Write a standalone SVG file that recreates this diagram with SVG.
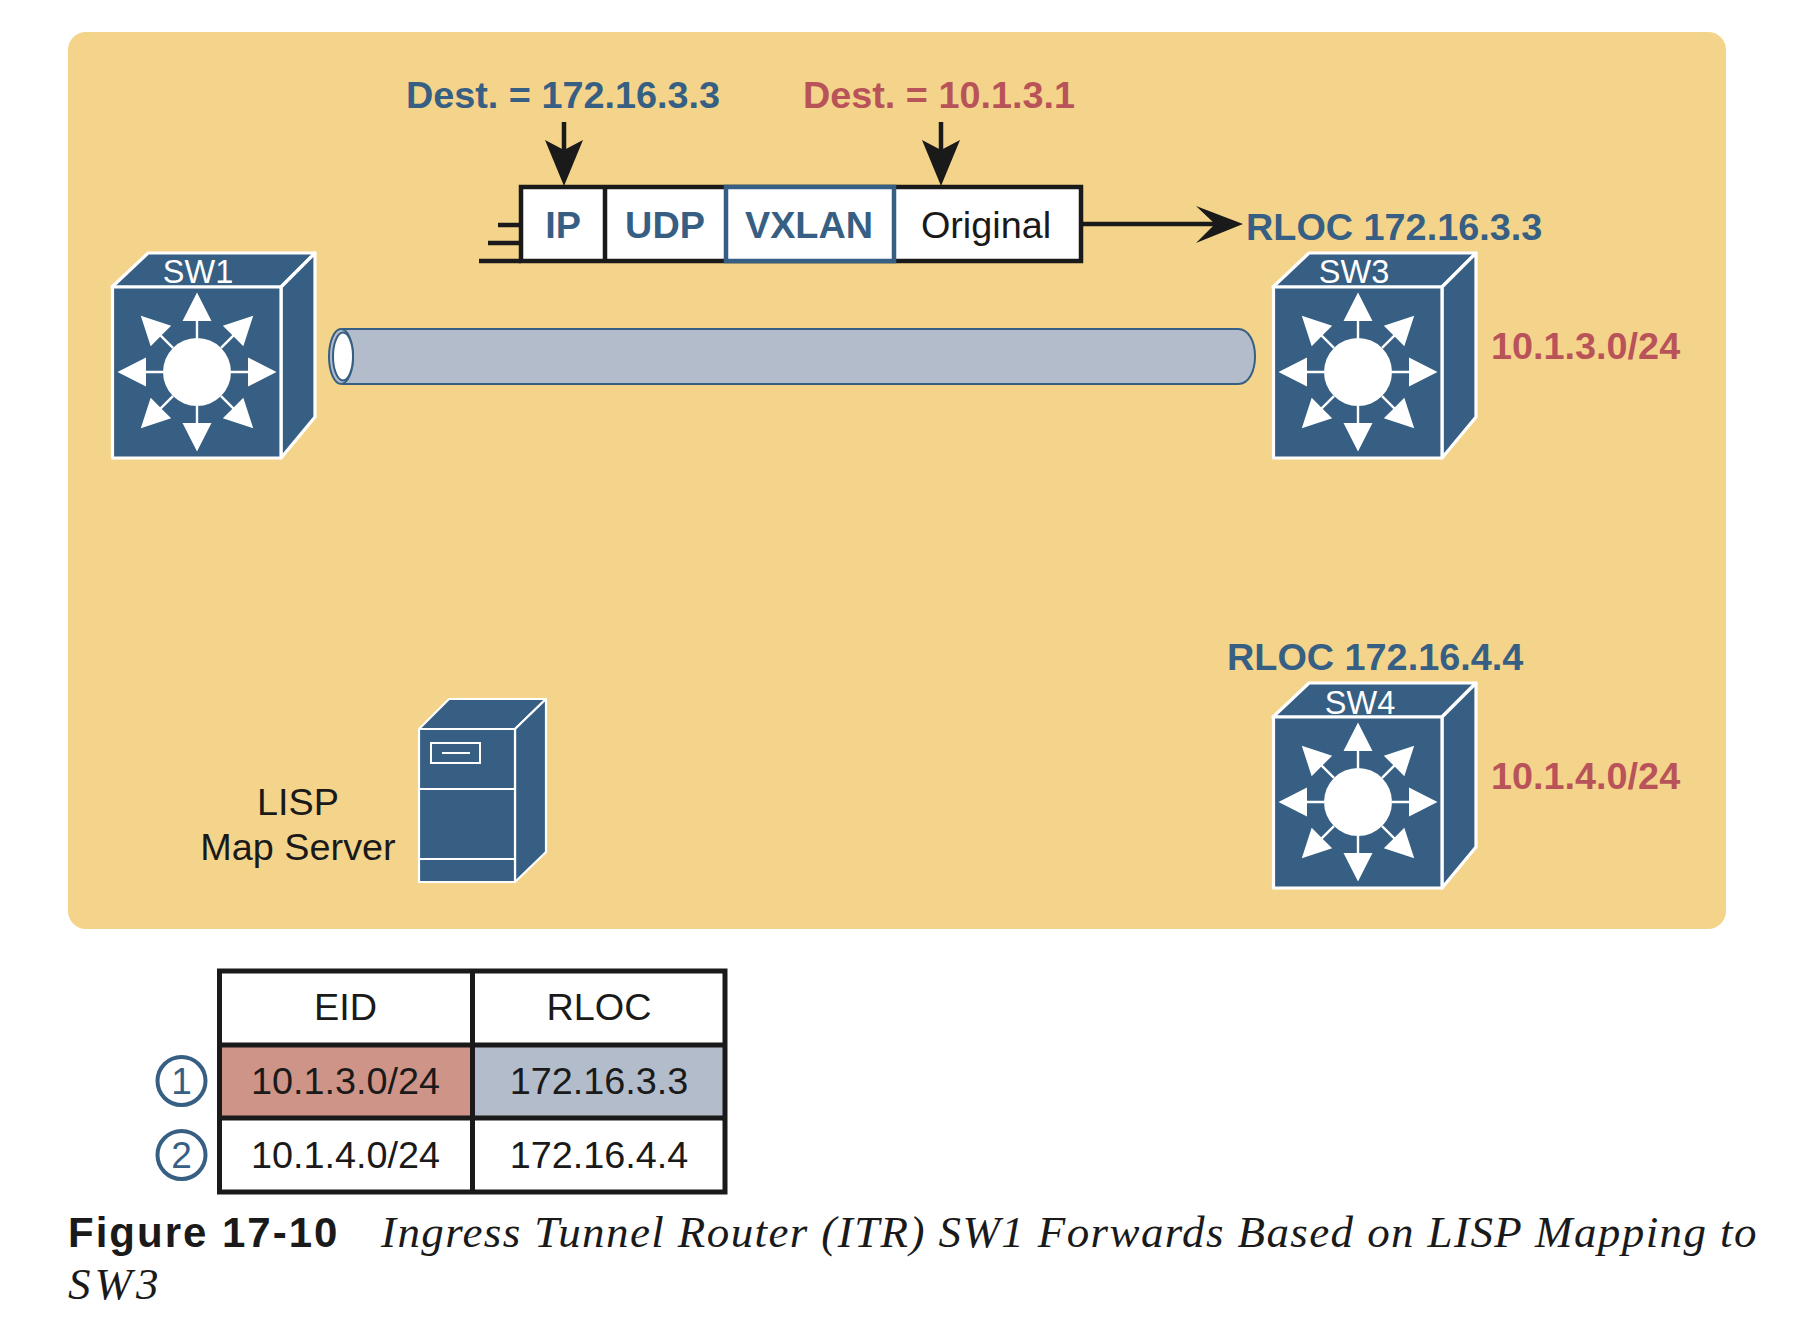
<svg xmlns="http://www.w3.org/2000/svg" xmlns:xlink="http://www.w3.org/1999/xlink" width="1806" height="1334" viewBox="0 0 1806 1334">
<style>
text{font-family:"Liberation Sans",Arial,sans-serif}
.b{font-weight:bold;font-size:37.800px}
.blue{fill:#365f83}
.red{fill:#b9535a}
.k{fill:#1a1a1a;font-size:37.800px}
.m{text-anchor:middle}
.face{fill:#365f83;stroke:#fff;stroke-width:3.200;stroke-linejoin:round}
.thin{fill:#365f83;stroke:#fff;stroke-width:2.200;stroke-linejoin:round}
.sw{fill:#fff;font-size:32.500px;text-anchor:middle}
.pk{stroke:#1a1a1a;stroke-width:4.500;fill:none}
.cap{font-family:"Liberation Serif",serif;font-style:italic;font-size:45px;letter-spacing:1.400px;fill:#1a1a1a}
.cell{stroke:#1a1a1a;stroke-width:5}
</style>
<defs>
<g id="ray"><path d="M-1.200 -34V-51H-14.500L0 -79.500L14.500 -51H1.200V-34Z" fill="#fff"/></g>
<g id="switch">
<path class="face" d="M-85 -85L-49 -119H118L84 -85Z"/>
<path class="face" d="M84 -85L118 -119V45L84 86Z"/>
<rect class="face" x="-84.500" y="-85" width="168.500" height="171"/>
<circle r="34" fill="#fff"/>
<use href="#ray"/>
<use href="#ray" transform="rotate(45)"/>
<use href="#ray" transform="rotate(90)"/>
<use href="#ray" transform="rotate(135)"/>
<use href="#ray" transform="rotate(180)"/>
<use href="#ray" transform="rotate(225)"/>
<use href="#ray" transform="rotate(270)"/>
<use href="#ray" transform="rotate(315)"/>
</g>
</defs>
<rect width="1806" height="1334" fill="#fff"/>
<rect id="panel" x="68" y="32" width="1658" height="897" rx="18" fill="#f4d48a"/>

<g id="tunnel">
<path d="M343 329H1238C1249 329 1255 342 1255 356.500C1255 371 1249 384 1238 384H343Z" fill="#b3bccb" stroke="#365f83" stroke-width="2"/>
<ellipse cx="341" cy="356.500" rx="12" ry="27.500" fill="#b3bccb" stroke="#365f83" stroke-width="2"/>
<ellipse cx="343" cy="356.500" rx="10" ry="24" fill="#fff" stroke="#365f83" stroke-width="2"/>
</g>

<g id="sw1"><use href="#switch" transform="translate(197 372)"/><text class="sw" x="198" y="283">SW1</text></g>
<g id="sw3"><use href="#switch" transform="translate(1358 372)"/><text class="sw" x="1354" y="283">SW3</text></g>
<g id="sw4"><use href="#switch" transform="translate(1358 802)"/><text class="sw" x="1360" y="714">SW4</text></g>

<g id="map-server">
<path class="thin" d="M419 729L449 699H546L515 729Z"/>
<path class="thin" d="M515 729L546 699V852L515 882Z"/>
<rect class="thin" x="419" y="729" width="96" height="153"/>
<path d="M419 789H515M419 859H515M442 753H470" stroke="#fff" stroke-width="2" fill="none"/>
<rect x="431" y="743" width="49" height="20" fill="none" stroke="#fff" stroke-width="2"/>
<text class="k m" x="298" y="815">LISP</text>
<text class="k m" x="298" y="860">Map Server</text>
</g>

<g id="packet">
<rect x="521" y="187" width="560" height="74" fill="#fff"/>
<rect class="pk" x="521" y="187" width="560" height="74"/>
<path class="pk" d="M605 187V261"/>
<rect x="726" y="187" width="168" height="74" fill="#fff" stroke="#365f83" stroke-width="4.500"/>
<text class="b blue m" x="563" y="238">IP</text>
<text class="b blue m" x="665" y="238">UDP</text>
<text class="b blue m" x="809" y="238">VXLAN</text>
<text class="k m" x="986" y="238">Original</text>
</g>

<g id="connectors">
<path class="pk" d="M498 225H521M488 243H521M479 261H521"/>
<path class="pk" d="M564 122V150M941 122V150M1081 224H1215"/>
<path fill="#1a1a1a" d="M545 140L564 150L583 140L564 186Z"/>
<path fill="#1a1a1a" d="M922 140L941 150L960 140L941 186Z"/>
<path fill="#1a1a1a" d="M1196 206L1215 224L1196 243L1243 224Z"/>
</g>

<g id="labels">
<text class="b blue m" x="563" y="108">Dest. = 172.16.3.3</text>
<text class="b red m" x="939" y="108">Dest. = 10.1.3.1</text>
<text class="b blue" x="1246" y="240">RLOC 172.16.3.3</text>
<text class="b blue" x="1227" y="670">RLOC 172.16.4.4</text>
<text class="b red" x="1491" y="359">10.1.3.0/24</text>
<text class="b red" x="1491" y="789">10.1.4.0/24</text>
</g>

<g id="table">
<rect x="219" y="971" width="253" height="74" fill="#fff"/>
<rect x="472" y="971" width="253" height="74" fill="#fff"/>
<rect x="219" y="1045" width="253" height="73" fill="#cf9488"/>
<rect x="472" y="1045" width="253" height="73" fill="#b3bccb"/>
<rect x="219" y="1118" width="506" height="74" fill="#fff"/>
<path class="cell" fill="none" d="M219.500 971H725V1192H219.500ZM472.500 971V1192M219 1045H725M219 1118H725"/>
<text class="k m" x="345.500" y="1020">EID</text>
<text class="k m" x="599" y="1020">RLOC</text>
<text class="k m" x="345.500" y="1094">10.1.3.0/24</text>
<text class="k m" x="599" y="1094">172.16.3.3</text>
<text class="k m" x="345.500" y="1168">10.1.4.0/24</text>
<text class="k m" x="599" y="1168">172.16.4.4</text>
</g>

<g id="step1"><circle cx="181.500" cy="1081" r="24" fill="none" stroke="#365f83" stroke-width="4"/><text class="blue m" x="181.500" y="1094" font-size="37">1</text></g>
<g id="step2"><circle cx="181.500" cy="1155" r="24" fill="none" stroke="#365f83" stroke-width="4"/><text class="blue m" x="181.500" y="1168" font-size="37">2</text></g>

<g id="caption">
<text x="68" y="1247" font-weight="bold" font-size="42" letter-spacing="2" fill="#1a1a1a">Figure 17-10</text>
<text class="cap" x="381" y="1247">Ingress Tunnel Router (ITR) SW1 Forwards Based on LISP Mapping to</text>
<text class="cap" x="68" y="1299" style="letter-spacing:4px">SW3</text>
</g>
</svg>
